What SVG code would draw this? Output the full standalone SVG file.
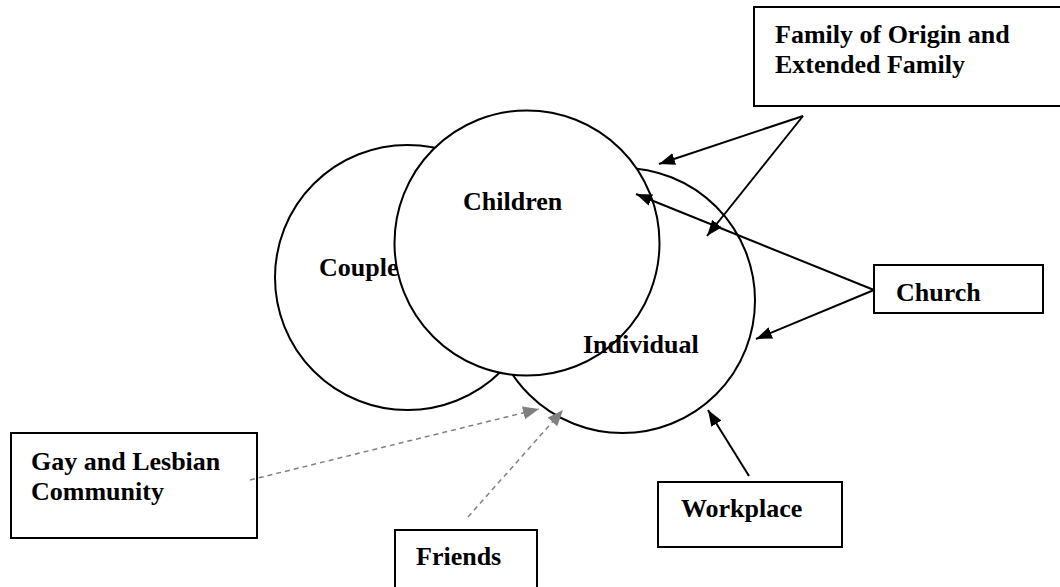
<svg xmlns="http://www.w3.org/2000/svg" width="1060" height="587" viewBox="0 0 1060 587">
  <style>
    .lbl { font-family: "Liberation Serif", "Times New Roman", serif; font-weight: bold; font-size: 26px; fill: #000; }
    .box { fill: #fff; stroke: #000; stroke-width: 2; }
    .ring { fill: #fff; stroke: #000; stroke-width: 2; }
    .link { stroke: #000; stroke-width: 2; fill: none; }
    .weak { stroke: #808080; stroke-width: 1.5; stroke-dasharray: 5 4; fill: none; }
  </style>
  <defs>
    <marker id="head" markerUnits="userSpaceOnUse" markerWidth="17" markerHeight="13" refX="16" refY="6" orient="auto">
      <path d="M0,0 L16,6 L0,12 z" fill="#000"/>
    </marker>
    <marker id="headGray" markerUnits="userSpaceOnUse" markerWidth="17" markerHeight="14" refX="16" refY="6.5" orient="auto">
      <path d="M0,0 L16,6.5 L0,13 z" fill="#808080"/>
    </marker>
  </defs>
  <rect width="1060" height="587" fill="#fff"/>

  <!-- overlapping circles: couple, individual, children -->
  <g id="couple">
    <circle class="ring" cx="407.5" cy="277.5" r="132.5"/>
    <text class="lbl" x="319" y="276">Couple</text>
  </g>
  <g id="individual">
    <circle class="ring" cx="622.5" cy="300.5" r="132.5"/>
  </g>
  <g id="children">
    <circle class="ring" cx="527" cy="243" r="132.5"/>
    <text class="lbl" x="463" y="210">Children</text>
  </g>
  <g id="individual-label">
    <text class="lbl" x="583" y="353">Individual</text>
  </g>

  <!-- surrounding systems -->
  <g id="family-of-origin">
    <rect class="box" x="754" y="7" width="310" height="99"/>
    <text class="lbl" x="775" y="43">Family of Origin and</text>
    <text class="lbl" x="775" y="73">Extended Family</text>
  </g>
  <g id="church">
    <rect class="box" x="874" y="265" width="169" height="48"/>
    <text class="lbl" x="896" y="301">Church</text>
  </g>
  <g id="workplace">
    <rect class="box" x="658" y="482" width="184" height="65"/>
    <text class="lbl" x="681" y="517">Workplace</text>
  </g>
  <g id="gay-lesbian-community">
    <rect class="box" x="11" y="433" width="246" height="105"/>
    <text class="lbl" x="31" y="470">Gay and Lesbian</text>
    <text class="lbl" x="31" y="500">Community</text>
  </g>
  <g id="friends">
    <rect class="box" x="395" y="530" width="142" height="70"/>
    <text class="lbl" x="416" y="565">Friends</text>
  </g>

  <!-- connectors -->
  <g id="connectors">
    <line class="link" x1="803" y1="116" x2="659" y2="164" marker-end="url(#head)"/>
    <line class="link" x1="803" y1="116" x2="707" y2="236" marker-end="url(#head)"/>
    <line class="link" x1="874" y1="290" x2="636" y2="194" marker-end="url(#head)"/>
    <line class="link" x1="874" y1="290" x2="756" y2="339" marker-end="url(#head)"/>
    <line class="link" x1="749" y1="476" x2="708" y2="410" marker-end="url(#head)"/>
    <line class="weak" x1="250" y1="480" x2="539" y2="409" marker-end="url(#headGray)"/>
    <line class="weak" x1="468" y1="517" x2="563" y2="410" marker-end="url(#headGray)"/>
  </g>
</svg>
